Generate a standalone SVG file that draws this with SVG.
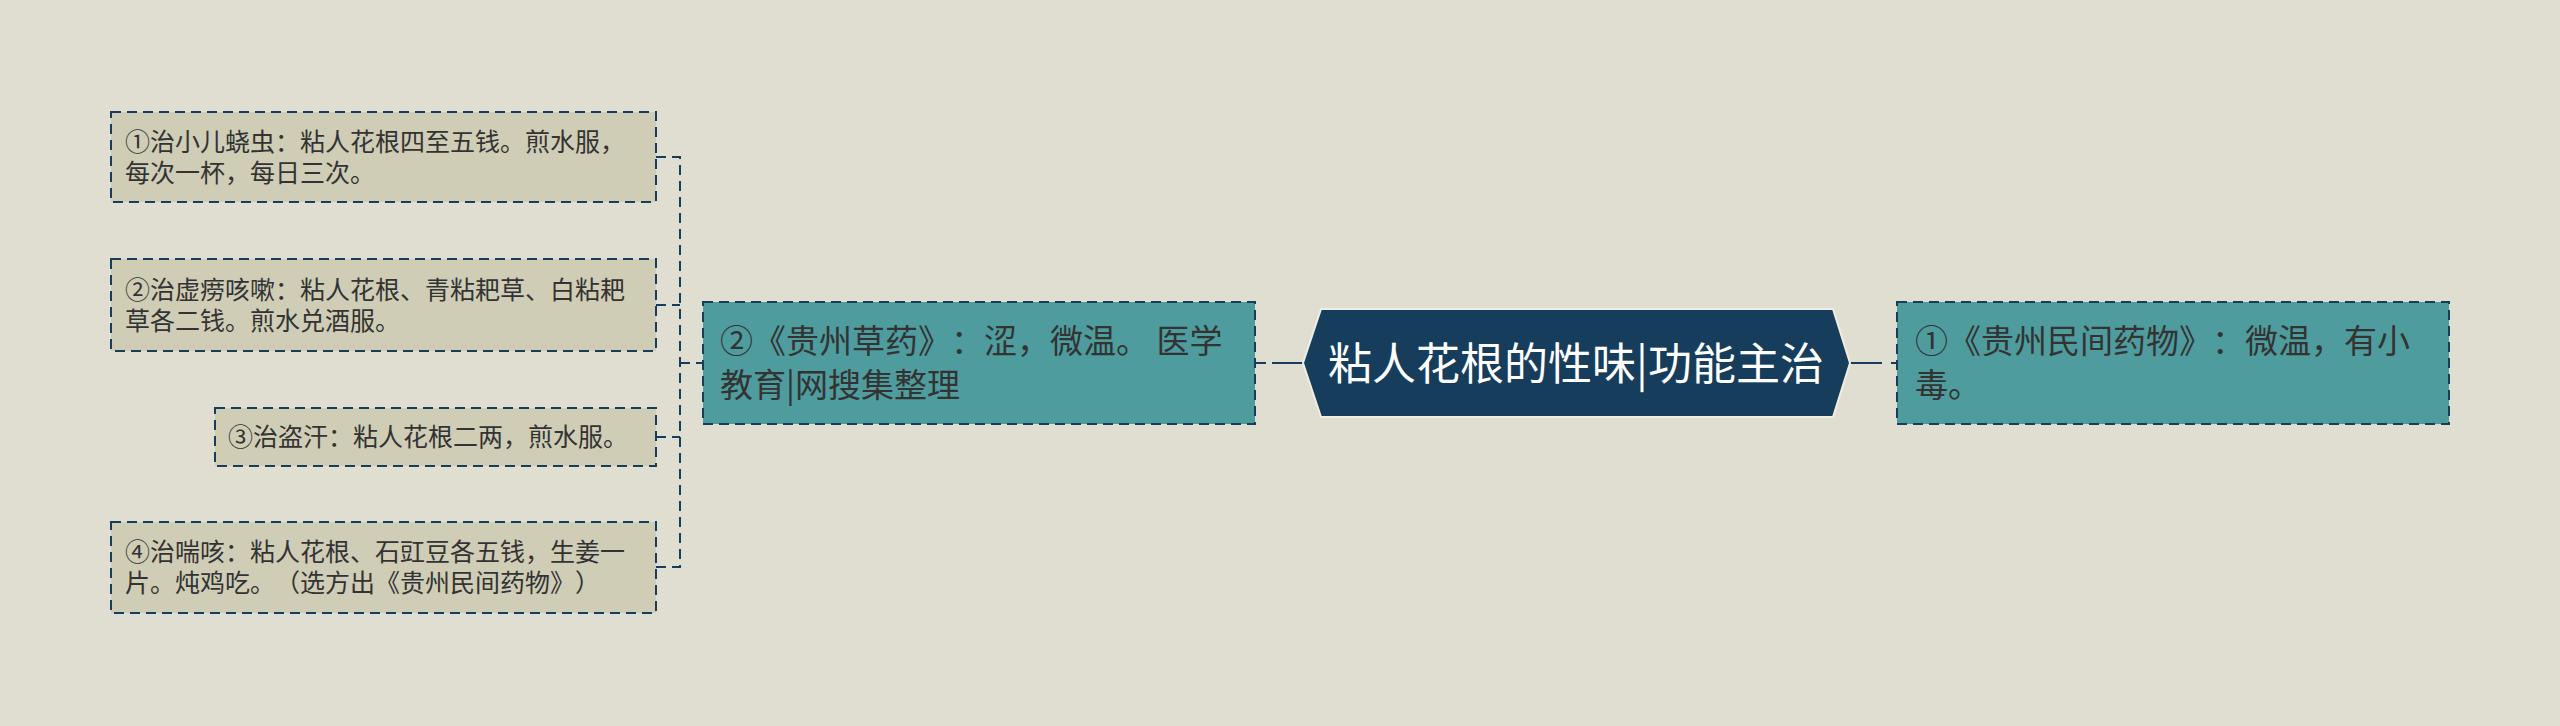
<svg xmlns="http://www.w3.org/2000/svg" width="2560" height="726" viewBox="0 0 2560 726">
<style>
.bg{fill:#e0ded0}
.leaf{fill:#cfcdb6;stroke:#173d5c;stroke-width:2;stroke-dasharray:10 6}
.branch{fill:#4e9c9d;stroke:#173d5c;stroke-width:2;stroke-dasharray:10 6}
.center{fill:#173d5c;stroke:#f0eee4;stroke-width:2}
.t{font-family:"Noto Sans CJK SC","Noto Sans",sans-serif;fill:#333333;text-spacing-trim:space-all}
.lt{font-size:25px}
.bt{font-size:33px}
.ct{font-size:44px;fill:#ffffff;text-anchor:middle}
.conn{fill:none;stroke:#173d5c;stroke-width:2;stroke-dasharray:10 6}
.solid{fill:none;stroke:#173d5c;stroke-width:2}
</style>
<rect class="bg" x="0" y="0" width="2560" height="726"/>
<g id="connectors">
<path class="conn" d="M656,157 H680 V567 H656"/>
<path class="conn" d="M656,305 H680"/>
<path class="conn" d="M656,437 H680"/>
<path class="conn" d="M680,363 H703"/>
<path class="solid" d="M1272,363 H1303"/>
<path class="solid" d="M1255,363 H1266"/>
<path class="solid" d="M1850,363 H1882"/>
<path class="solid" d="M1891,363 H1897"/>
</g>
<g id="center">
<polygon class="center" points="1303,363 1321,309 1833,309 1850,363 1833,417 1321,417"/>
<text class="t ct" x="1576" y="380">粘人花根的性味|功能主治</text>
</g>
<g id="branch-left">
<rect class="branch" x="703" y="302" width="552" height="122"/>
<text class="t bt" x="720" y="353">②《贵州草药》：涩，微温。 医学</text>
<text class="t bt" x="720" y="397">教育|网搜集整理</text>
</g>
<g id="branch-right">
<rect class="branch" x="1897" y="302" width="552" height="122"/>
<text class="t bt" x="1915" y="353">①《贵州民间药物》：微温，有小</text>
<text class="t bt" x="1915" y="397">毒。</text>
</g>
<g id="leaf1">
<rect class="leaf" x="111" y="112" width="545" height="90"/>
<text class="t lt" x="125" y="151">①治小儿蛲虫：粘人花根四至五钱。煎水服，</text>
<text class="t lt" x="125" y="182">每次一杯，每日三次。</text>
</g>
<g id="leaf2">
<rect class="leaf" x="111" y="259" width="545" height="92"/>
<text class="t lt" x="125" y="299">②治虚痨咳嗽：粘人花根、青粘耙草、白粘耙</text>
<text class="t lt" x="125" y="330">草各二钱。煎水兑酒服。</text>
</g>
<g id="leaf3">
<rect class="leaf" x="215" y="408" width="441" height="58"/>
<text class="t lt" x="228" y="446">③治盗汗：粘人花根二两，煎水服。</text>
</g>
<g id="leaf4">
<rect class="leaf" x="111" y="522" width="545" height="91"/>
<text class="t lt" x="125" y="561">④治喘咳：粘人花根、石豇豆各五钱，生姜一</text>
<text class="t lt" x="125" y="592">片。炖鸡吃。（选方出《贵州民间药物》）</text>
</g>
</svg>
